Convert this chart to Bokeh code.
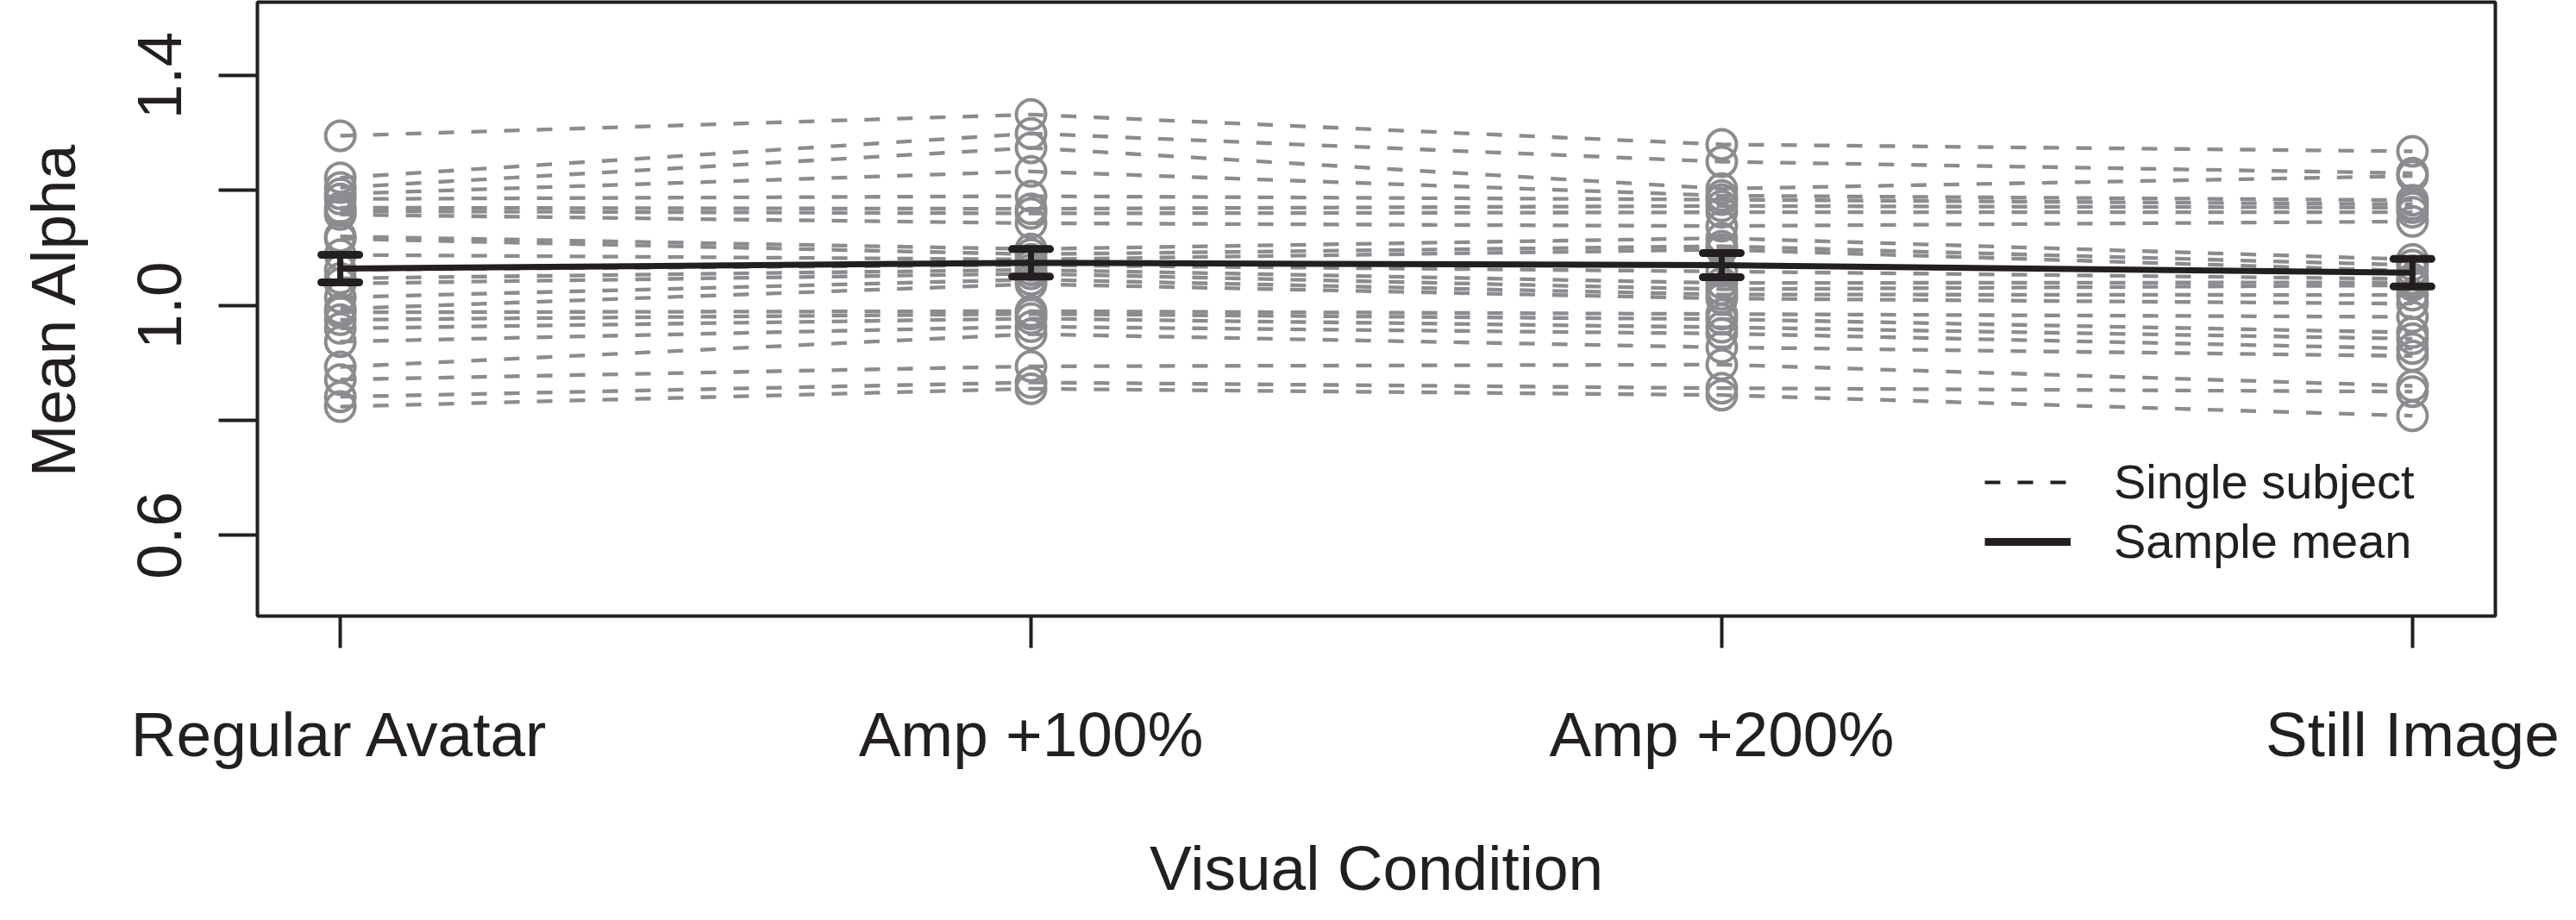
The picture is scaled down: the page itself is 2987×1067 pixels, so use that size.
from bokeh.plotting import figure
from bokeh.models import (Range1d, FixedTicker, ColumnDataSource,
                          Legend, LegendItem, CustomJSTickFormatter)
from bokeh.embed import file_html
from bokeh.resources import INLINE

# ---------------- data ----------------
conditions = ["Regular Avatar", "Amp +100%", "Amp +200%", "Still Image"]
cond_x = [1, 2, 3, 4]

regular_avatar = [1.295, 1.222, 1.205, 1.194, 1.185, 1.170, 1.164, 1.158, 1.120, 1.116,
                  1.088, 1.062, 1.047, 1.038, 1.014, 0.994, 0.988, 0.975, 0.960, 0.937,
                  0.893, 0.871, 0.841, 0.824]
amp_100 = [1.332, 1.299, 1.274, 1.233, 1.190, 1.168, 1.160, 1.143, 1.098, 1.089,
           1.080, 1.070, 1.062, 1.055, 1.045, 1.037, 0.990, 0.985, 0.977, 0.963,
           0.950, 0.894, 0.866, 0.855]
amp_200 = [1.280, 1.250, 1.203, 1.191, 1.184, 1.173, 1.162, 1.138, 1.117, 1.103,
           1.097, 1.059, 1.039, 1.028, 1.019, 1.012, 0.985, 0.976, 0.962, 0.951,
           0.927, 0.897, 0.856, 0.844]
still_image = [1.268, 1.230, 1.225, 1.183, 1.176, 1.170, 1.162, 1.146, 1.080, 1.070,
               1.060, 1.046, 1.040, 1.035, 1.018, 1.003, 0.980, 0.953, 0.942, 0.925,
               0.912, 0.860, 0.850, 0.808]

sample_mean = [1.064, 1.074, 1.070, 1.057]
sample_se = [0.024, 0.024, 0.021, 0.024]

y_ticks = [0.6, 0.8, 1.0, 1.2, 1.4]
y_tick_labels = ["0.6", "", "1.0", "", "1.4"]

# ---------------- styling ----------------
GRAY = "#8b8c8f"
INK = "#231f20"
FONT = "Liberation Sans"

p = figure(width=2971, height=1051,
           x_range=Range1d(0.88, 4.12), y_range=Range1d(0.4596, 1.5275),
           output_backend="svg", toolbar_location=None,
           min_border_left=298, min_border_right=78,
           min_border_top=2, min_border_bottom=337)
p.grid.visible = False
p.outline_line_color = INK
p.outline_line_width = 4
p.background_fill_color = "white"
p.border_fill_color = "white"

# single-subject dashed lines
series = [regular_avatar, amp_100, amp_200, still_image]
subj_ys = [list(v) for v in zip(*series)]
subj_xs = [list(cond_x) for _ in subj_ys]
p.multi_line(xs=subj_xs, ys=subj_ys, line_color=GRAY, line_width=4.3, line_dash="18 20")

# open circles
pt_x, pt_y = [], []
for cx, vals in zip(cond_x, series):
    pt_x += [cx] * len(vals)
    pt_y += list(vals)
p.scatter(x=pt_x, y=pt_y, marker="circle", size=34, fill_color=None,
          line_color=GRAY, line_width=4)

# sample mean line and error bars
p.line(x=cond_x, y=sample_mean, line_color=INK, line_width=7)
err_src = ColumnDataSource(dict(
    x=cond_x,
    upper=[m + s for m, s in zip(sample_mean, sample_se)],
    lower=[m - s for m, s in zip(sample_mean, sample_se)],
))
p.segment(x0="x", y0="lower", x1="x", y1="upper", source=err_src,
          line_color=INK, line_width=7)
p.scatter(x="x", y="upper", source=err_src, marker="dash", size=44,
          line_color=INK, line_width=9, line_cap="round")
p.scatter(x="x", y="lower", source=err_src, marker="dash", size=44,
          line_color=INK, line_width=9, line_cap="round")

# axes
fmt_code = """
const i = tvals.findIndex(t => Math.abs(t - tick) < 1e-9);
return i >= 0 ? tlabels[i] : "";
"""
p.xaxis.ticker = FixedTicker(ticks=cond_x)
p.xaxis.formatter = CustomJSTickFormatter(args=dict(tvals=cond_x, tlabels=conditions), code=fmt_code)
p.yaxis.ticker = FixedTicker(ticks=y_ticks)
p.yaxis.formatter = CustomJSTickFormatter(args=dict(tvals=y_ticks, tlabels=y_tick_labels), code=fmt_code)

for ax in p.axis:
    ax.axis_line_color = None
    ax.major_tick_line_color = INK
    ax.major_tick_line_width = 4
    ax.major_tick_in = 0
    ax.minor_tick_line_color = None
    ax.major_label_text_font = FONT
    ax.major_label_text_font_size = "73px"
    ax.major_label_text_color = INK
    ax.axis_label_text_font = FONT
    ax.axis_label_text_font_size = "73px"
    ax.axis_label_text_font_style = "normal"
    ax.axis_label_text_color = INK
    ax.axis_label_text_line_height = 0.8

p.xaxis.axis_label = "Visual Condition"
p.yaxis.axis_label = "Mean Alpha"
p.xaxis.major_tick_out = 37
p.yaxis.major_tick_out = 45
p.yaxis.major_label_orientation = "vertical"
p.xaxis.major_label_standoff = 59
p.xaxis.axis_label_standoff = 71
p.yaxis.major_label_standoff = 43
p.yaxis.axis_label_standoff = 56

# legend
nan = float("nan")
leg_dash = p.line(x=[nan, nan], y=[nan, nan], line_color=INK, line_width=4, line_dash="18 20")
leg_solid = p.line(x=[nan, nan], y=[nan, nan], line_color=INK, line_width=9)
legend = Legend(items=[LegendItem(label="Single subject", renderers=[leg_dash]),
                       LegendItem(label="Sample mean", renderers=[leg_solid])],
                location=(2003, 54), border_line_color=None, background_fill_alpha=0,
                padding=0, margin=0, spacing=4, glyph_width=100, glyph_height=56,
                label_height=56, label_standoff=50, label_text_font=FONT,
                label_text_font_size="56px", label_text_color=INK)
p.add_layout(legend)

open("out.html", "w").write(file_html(p, INLINE))
